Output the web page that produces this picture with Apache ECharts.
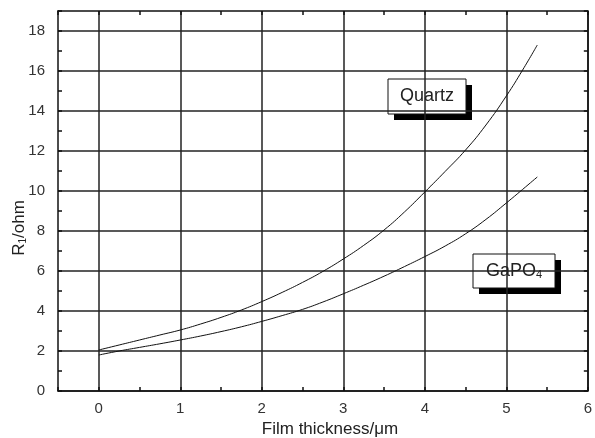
<!DOCTYPE html>
<html>
<head>
<meta charset="utf-8">
<script src="https://cdn.jsdelivr.net/npm/echarts@6/dist/echarts.min.js"></script>
<style>
  html, body { margin: 0; padding: 0; background: #fff; }
  #chart { width: 595px; height: 438px; }
</style>
</head>
<body>
<div id="chart"></div>
<script>
// film thickness in um
var thickness = [0, 0.25, 0.5, 0.75, 1, 1.25, 1.5, 1.75, 2, 2.25, 2.5, 2.75, 3, 3.25, 3.5, 3.75, 4, 4.25, 4.5, 4.75, 5, 5.2, 5.38];
// R1 in ohm
var quartz = [2.05, 2.3, 2.55, 2.8, 3.05, 3.35, 3.68, 4.05, 4.47, 4.93, 5.43, 5.98, 6.6, 7.28, 8.05, 8.95, 9.95, 10.98, 12.05, 13.3, 14.75, 16.05, 17.3];
var gapo4 = [1.8, 2.0, 2.18, 2.36, 2.55, 2.75, 2.97, 3.21, 3.48, 3.77, 4.08, 4.45, 4.86, 5.29, 5.74, 6.22, 6.72, 7.25, 7.86, 8.58, 9.4, 10.08, 10.7];

var FONT = "'Liberation Sans', Arial, sans-serif";

function pairs(xs, ys) {
    return xs.map(function (x, i) { return [x, ys[i]]; });
}

function labelBox(x, y, w, h, text) {
    return {
        type: 'group',
        x: x,
        y: y,
        children: [
            { type: 'rect', shape: { x: 6, y: 6, width: w, height: h }, style: { fill: '#000' } },
            { type: 'rect', shape: { x: 0, y: 0, width: w, height: h }, style: { fill: '#fff', stroke: '#111', lineWidth: 1 } },
            {
                type: 'text', x: w / 2, y: h / 2,
                style: {
                    text: text, fill: '#222', fontSize: 18, fontFamily: FONT,
                    align: 'center', verticalAlign: 'middle',
                    rich: { sub: { fontSize: 11, fontFamily: FONT, fill: '#222', padding: [8, 0, 0, 0] } }
                }
            }
        ]
    };
}

var axisLineStyle = { color: '#111', width: 1.5 };

var chart = echarts.init(document.getElementById('chart'));
var option = {
    animation: false,
    backgroundColor: '#fff',
    grid: { left: 58, top: 11, width: 537, height: 380 },
    xAxis: [{
        type: 'value', min: -0.5, max: 6, interval: 0.5, position: 'bottom',
        axisLine: { show: true, onZero: false, lineStyle: axisLineStyle },
        axisTick: { show: true, inside: true, length: 4, lineStyle: { color: '#111', width: 1.5 } },
        axisLabel: {
            color: '#333', fontSize: 15, fontFamily: FONT, margin: 10,
            formatter: function (v) { return (v % 1 === 0 && v >= 0) ? String(v) : ''; }
        },
        splitLine: { show: true, lineStyle: { color: ['rgba(0,0,0,0)', '#222'], width: 1.5 } }
    }, {
        type: 'value', min: -0.5, max: 6, interval: 0.5, position: 'top',
        axisLine: { show: true, onZero: false, lineStyle: axisLineStyle },
        axisTick: { show: true, inside: true, length: 4, lineStyle: { color: '#111', width: 1.5 } },
        axisLabel: { show: false },
        splitLine: { show: false }
    }],
    yAxis: [{
        type: 'value', min: 0, max: 19, interval: 1, position: 'left',
        axisLine: { show: true, onZero: false, lineStyle: axisLineStyle },
        axisTick: { show: true, inside: true, length: 4, lineStyle: { color: '#111', width: 1.5 } },
        axisLabel: {
            color: '#333', fontSize: 15, fontFamily: FONT, margin: 13,
            formatter: function (v) { return v % 2 === 0 ? String(v) : ''; }
        },
        splitLine: { show: true, lineStyle: { color: ['#222', 'rgba(0,0,0,0)'], width: 1.5 } }
    }, {
        type: 'value', min: 0, max: 19, interval: 1, position: 'right',
        axisLine: { show: true, onZero: false, lineStyle: axisLineStyle },
        axisTick: { show: true, inside: true, length: 4, lineStyle: { color: '#111', width: 1.5 } },
        axisLabel: { show: false },
        splitLine: { show: false }
    }],
    series: [{
        name: 'Quartz', type: 'line', smooth: true, showSymbol: false,
        lineStyle: { color: '#111', width: 1 },
        data: pairs(thickness, quartz)
    }, {
        name: 'GaPO4', type: 'line', smooth: true, showSymbol: false,
        lineStyle: { color: '#111', width: 1 },
        data: pairs(thickness, gapo4)
    }],
    graphic: [
        labelBox(388, 79, 78, 35, 'Quartz'),
        labelBox(473, 254, 82, 34, 'GaPO{sub|4}'),
        {
            type: 'text', x: 330, y: 429,
            style: { text: 'Film thickness/\u03bcm', fill: '#222', fontSize: 17, fontFamily: FONT, align: 'center', verticalAlign: 'middle' }
        },
        {
            type: 'text', x: 19, y: 228, rotation: Math.PI / 2,
            style: {
                text: 'R{sub|1}/ohm', fill: '#222', fontSize: 17, fontFamily: FONT, align: 'center', verticalAlign: 'middle',
                rich: { sub: { fontSize: 10, fontFamily: FONT, fill: '#222', padding: [8, 0, 0, 0] } }
            }
        }
    ]
};
chart.setOption(option);
</script>
</body>
</html>
